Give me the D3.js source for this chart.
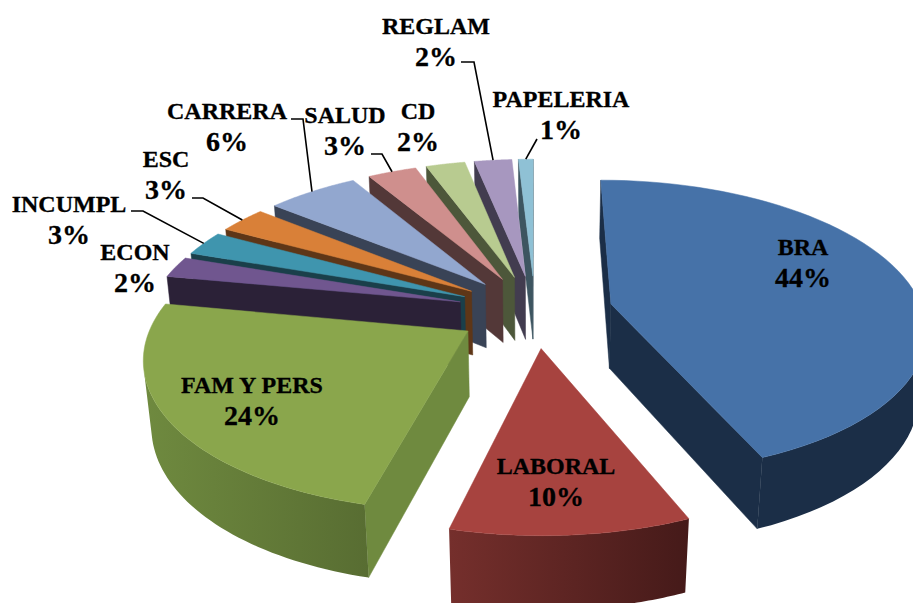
<!DOCTYPE html>
<html>
<head>
<meta charset="utf-8">
<script src="https://cdn.jsdelivr.net/npm/d3@7"></script>
<style>
  html, body { margin: 0; padding: 0; background: #fff; }
  svg { display: block; }
  text { font-family: "Liberation Serif", serif; font-weight: bold; font-size: 24px; fill: #000; stroke: #000; stroke-width: 0.3px; text-anchor: middle; }
  .pct { font-size: 28px; }
</style>
</head>
<body>
<script>
// data
const categories = ["BRA", "LABORAL", "FAM Y PERS", "ECON", "INCUMPL", "ESC", "CARRERA", "SALUD", "CD", "REGLAM", "PAPELERIA"];
const values = [43.8, 10.2, 24.1, 2.3, 2.7, 2.9, 5.6, 3.0, 2.4, 2.3, 0.9];

// colours
const topColors = ["#4672a8", "#a7433f", "#8aa64c", "#70568f", "#3f95ae", "#d98038", "#92a7cf", "#cf8f8d", "#b8cb90", "#a797bf", "#8fc1d5"];
const wallFrom = ["#1b2e47", "#752f2c", "#6f8a3f", "#2b2137", "#1a3f4a", "#5e3617", "#394356", "#533838", "#4d573a", "#423c4f", "#3d5560"];
const wallTo = ["#1b2e47", "#451a19", "#586d32", "#2b2137", "#1a3f4a", "#5e3617", "#394356", "#533838", "#4d573a", "#423c4f", "#3d5560"];

// label centres and leader elbows, by category
const labelX = [803, 556, 252, 135, 69, 166, 227, 345, 418, 436, 561];
const labelY = [247, 466, 385, 252, 204, 159, 111, 115, 111, 26, 99];
const leaderStart = [null, null, null, null, [131, 211], [192, 198], [291, 119], [371, 154], null, [461, 62], [537, 139]];
const leaderElbow = [null, null, null, null, [143, 211], [203, 198], [303, 119], [382, 154], null, [474, 62], null];

// set the dimensions of the graph
const width = 913, height = 603;
const cx = 535, cy = 311, rx = 312, ry = 145;
const explode = 0.25, persp = 0.155, perspZ = 0.02, thick = 66, lineGap = 31;
const startAngle = 0;

const scaleX = d3.scaleLinear().domain([-1, 1]).range([cx - rx, cx + rx]);
const scaleY = d3.scaleLinear().domain([-1, 1]).range([cy + ry, cy - ry]);

// world point to screen, d = 0 on the top face, d = 1 on the bottom face
function project(x, y, d) {
  const s = 1 / (1 + persp * y + perspZ * d);
  return [scaleX(x * s), scaleY(y * s) + thick * d * s];
}

const arcs = d3.pie().sort(null).value(d => d)
  .startAngle(startAngle).endAngle(startAngle + 2 * Math.PI)(values);

const slices = arcs.map((a, i) => {
  const mid = (a.startAngle + a.endAngle) / 2;
  const ax = explode * Math.sin(mid), ay = explode * Math.cos(mid);
  const rim = (t, d) => project(ax + Math.sin(t), ay + Math.cos(t), d);
  const angles = d3.range(0, 61).map(k => a.startAngle + (a.endAngle - a.startAngle) * k / 60);
  return { i, mid, ay, rim, angles, apex: d => project(ax, ay, d) };
}).sort((p, q) => d3.descending(p.ay, q.ay));

var svg = d3.select("body").append("svg")
    .attr("width", width)
    .attr("height", height);
const defs = svg.append("defs");
const line = d3.line().curve(d3.curveLinearClosed);

function facing(pts) { return d3.polygonArea(pts) > 0; }

slices.forEach(sl => {
  const g = svg.append("g").attr("class", "slice");
  const first = sl.angles[0], last = sl.angles[sl.angles.length - 1];

  // radial walls
  const walls = [
    [sl.apex(0), sl.rim(first, 0), sl.rim(first, 1), sl.apex(1)],
    [sl.rim(last, 0), sl.apex(0), sl.apex(1), sl.rim(last, 1)]
  ];
  walls.filter(facing).forEach(w => {
    g.append("path").attr("d", line(w))
      .attr("fill", wallFrom[sl.i]).attr("stroke", wallFrom[sl.i]).attr("stroke-width", 0.5);
  });

  // outer wall, only the part that looks at the viewer
  const seen = d3.pairs(sl.angles).filter(([p, q]) =>
    facing([sl.rim(p, 0), sl.rim(q, 0), sl.rim(q, 1), sl.rim(p, 1)]));
  if (seen.length) {
    const ts = [seen[0][0]].concat(seen.map(s => s[1]));
    const pts = ts.map(t => sl.rim(t, 0)).concat(ts.slice().reverse().map(t => sl.rim(t, 1)));
    const grad = defs.append("linearGradient").attr("id", "wall" + sl.i)
      .attr("gradientUnits", "userSpaceOnUse")
      .attr("x1", d3.min(pts, p => p[0])).attr("x2", d3.max(pts, p => p[0]))
      .attr("y1", 0).attr("y2", 0);
    grad.append("stop").attr("offset", 0).attr("stop-color", wallFrom[sl.i]);
    grad.append("stop").attr("offset", 1).attr("stop-color", wallTo[sl.i]);
    g.append("path").attr("d", line(pts)).attr("fill", "url(#wall" + sl.i + ")");
  }

  // top face
  const topPts = [sl.apex(0)].concat(sl.angles.map(t => sl.rim(t, 0)));
  g.append("path").attr("d", line(topPts))
    .attr("fill", topColors[sl.i]).attr("stroke", topColors[sl.i]).attr("stroke-width", 0.5);
});

// leader lines end on the middle of the slice rim
slices.forEach(sl => {
  if (!leaderStart[sl.i]) return;
  const pts = [leaderStart[sl.i]];
  if (leaderElbow[sl.i]) pts.push(leaderElbow[sl.i]);
  pts.push(sl.rim(sl.mid, 0));
  svg.append("path").attr("class", "leader")
    .attr("d", d3.line()(pts))
    .attr("fill", "none").attr("stroke", "#000").attr("stroke-width", 1.6);
});

// labels
categories.forEach((c, i) => {
  const t = svg.append("text").attr("class", "label");
  t.append("tspan").attr("x", labelX[i]).attr("y", labelY[i] + 8).text(c);
  t.append("tspan").attr("class", "pct").attr("x", labelX[i]).attr("y", labelY[i] + 9 + lineGap).text(Math.round(values[i]) + "%");
});
</script>
</body>
</html>
